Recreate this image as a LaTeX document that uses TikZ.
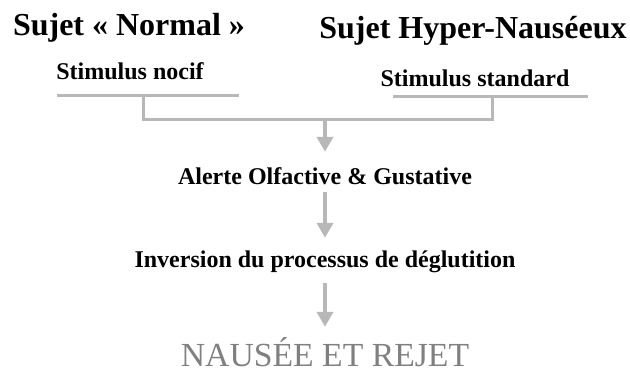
\documentclass[tikz,border=0pt]{standalone}
\usepackage{fontspec}
\setmainfont{Liberation Serif}
\usepackage{tikz}
\usetikzlibrary{
  arrows.meta,
  chains,
  scopes
}
\definecolor{gristrait}{gray}{0.72}
\definecolor{grisissue}{gray}{0.5}

\begin{document}
\begin{tikzpicture}[
      x=1pt,y=-1pt,
      sujet/.style={
         anchor=base,
         inner sep=0pt,
         font=\bfseries\fontsize{32}{36}\selectfont
      },
      stimulus/.style={
         anchor=base,
         inner sep=0pt,
         font=\bfseries\fontsize{24}{28}\selectfont
      },
      etape/.style={
         anchor=base,
         inner sep=0pt,
         font=\bfseries\fontsize{24}{28}\selectfont,
         text height=17pt,
         text depth=5pt
      },
      issue/.style={
         anchor=base,
         inner sep=0pt,
         font=\fontsize{33.7}{38}\selectfont,
         text=grisissue,
         text height=23pt,
         text depth=0pt
      },
      point/.style={coordinate},
      trait/.style={draw=gristrait,line width=3pt},
      fleche/.style={draw=gristrait,line width=4pt,-{Triangle[width=16pt,length=15pt]}},
      %every join/.style={rounded corners},
    ]
    \useasboundingbox (0,0) rectangle (630,374);

    \node (sn) [sujet] at (129,36) {Sujet « Normal »};
    \node (sh) [sujet] at (473,39) {Sujet Hyper-Nauséeux};
    \node (stn) [stimulus] at (130,80) {Stimulus nocif};
    \node (sts) [stimulus] at (475,87) {Stimulus standard};

    \node (ng) [point] at (57,96) {};
    \node (nm) [point] at (143,96) {};
    \node (nd) [point] at (239,96) {};
    \node (sg) [point] at (393,97) {};
    \node (sm) [point] at (492,97) {};
    \node (sd) [point] at (588,97) {};
    \node (jo) [point] at (325,120) {};

    \node (al) [etape] at (325,185) {Alerte Olfactive \& Gustative};
    \node (inv) [etape] at (325,268) {Inversion du processus de déglutition};
    \node (nr) [issue] at (325,367) {NAUSÉE ET REJET};

    \draw[trait] (ng) -- (nd);
    \draw[trait] (sg) -- (sd);
    \draw[trait] (nm) |- (jo) -| (sm);

  { [start chain]
       \chainin (jo);
       \chainin (al)    [join=by {fleche,shorten >=16pt}];
  }
  { [start chain]
       \chainin (al);
       \chainin (inv)    [join=by {fleche,shorten <=2pt,shorten >=13pt}];
  }
  { [start chain]
       \chainin (inv);
       \chainin (nr)    [join=by {fleche,shorten <=10pt,shorten >=17pt}];
  }
\end{tikzpicture}
\end{document}
